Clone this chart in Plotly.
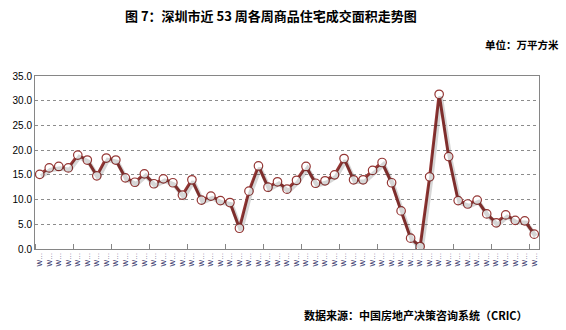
import plotly.graph_objects as go

# Weekly transacted area of commodity housing in Shenzhen, last 53 weeks (10k m²)
weeks = [f"W{i}" for i in range(1, 54)]
week_labels = ["W…"] * 53
area = [15.1, 16.4, 16.7, 16.4, 19.0, 18.0, 14.8, 18.4, 18.0, 14.4,
        13.5, 15.2, 13.2, 14.2, 13.4, 10.9, 14.0, 9.9, 10.7, 9.8,
        9.4, 4.2, 11.7, 16.8, 12.5, 13.6, 12.1, 13.9, 16.7, 13.3,
        13.8, 15.0, 18.3, 14.0, 14.0, 15.9, 17.5, 13.4, 7.7, 2.2,
        0.5, 14.6, 31.3, 18.7, 9.8, 9.1, 9.9, 7.1, 5.3, 6.9,
        5.8, 5.7, 3.0]
y_ticks = [0, 5, 10, 15, 20, 25, 30, 35]

LINE = "#953735"
FONT_CJK = "Noto Sans CJK SC"

idx = list(range(len(area)))

fig = go.Figure()

# soft drop shadow under the line, drawn on slightly shifted overlay axes
fig.add_trace(go.Scatter(
    x=idx, y=area, mode="lines", xaxis="x2", yaxis="y2",
    line=dict(color="rgba(0,0,0,0.16)", width=4.5),
    hoverinfo="skip", showlegend=False,
))

fig.add_trace(go.Scatter(
    x=idx, y=area, mode="lines+markers", name="成交面积",
    customdata=weeks,
    hovertemplate="%{customdata}: %{y:.1f}<extra></extra>",
    line=dict(color=LINE, width=3),
    marker=dict(size=8.5, color="white", line=dict(color=LINE, width=1.2)),
    showlegend=False,
))

n = len(area)
px_per_unit_y = 173 / 35.0
px_per_cat = 504 / n
dy = 2 / px_per_unit_y
dx = 1.5 / px_per_cat

fig.update_layout(
    width=566, height=330,
    margin=dict(l=35, r=27, t=76, b=81),
    paper_bgcolor="white", plot_bgcolor="white",
    font=dict(family="Liberation Sans, Arial, sans-serif", size=10, color="#000"),
    xaxis=dict(
        range=[-0.5, n - 0.5],
        tickmode="array", tickvals=idx, ticktext=week_labels,
        tickangle=-90, tickfont=dict(size=7, color="#1a1a5a"),
        ticks="", showgrid=False, zeroline=False,
        showline=True, linecolor="#868686", linewidth=1, mirror=True,
        minor=dict(tick0=-0.5, dtick=4, ticks="inside", ticklen=5,
                   tickcolor="#868686", tickwidth=1, showgrid=False),
    ),
    yaxis=dict(
        range=[0, 35], tickvals=y_ticks, tickformat=".1f",
        tickfont=dict(size=10, color="#000"),
        showgrid=True, gridcolor="#8c8c8c", griddash="dot", gridwidth=1,
        zeroline=False, ticks="",
        showline=True, linecolor="#868686", linewidth=1, mirror=True,
    ),
    xaxis2=dict(
        overlaying="x", range=[-0.5 - dx, n - 0.5 - dx],
        visible=False, showgrid=False,
    ),
    yaxis2=dict(
        overlaying="y", range=[dy, 35 + dy],
        visible=False, showgrid=False,
    ),
    annotations=[
        dict(text="<b>图 7：深圳市近 53 周各周商品住宅成交面积走势图</b>",
             xref="paper", yref="paper", x=(271 - 35) / 504, y=1,
             yshift=61, xanchor="center", yanchor="middle", showarrow=False,
             font=dict(family=FONT_CJK, size=13, color="#000")),
        dict(text="<b>单位：万平方米</b>",
             xref="paper", yref="paper", x=1, y=1, xshift=22, yshift=32,
             xanchor="right", yanchor="middle", showarrow=False,
             font=dict(family=FONT_CJK, size=10.5, color="#000")),
        dict(text="<b>数据来源：中国房地产决策咨询系统（CRIC）</b>",
             xref="paper", yref="paper", x=1, y=0, xshift=-9, yshift=-66,
             xanchor="right", yanchor="middle", showarrow=False,
             font=dict(family=FONT_CJK, size=11, color="#000")),
    ],
)

fig.write_html("out.html")
